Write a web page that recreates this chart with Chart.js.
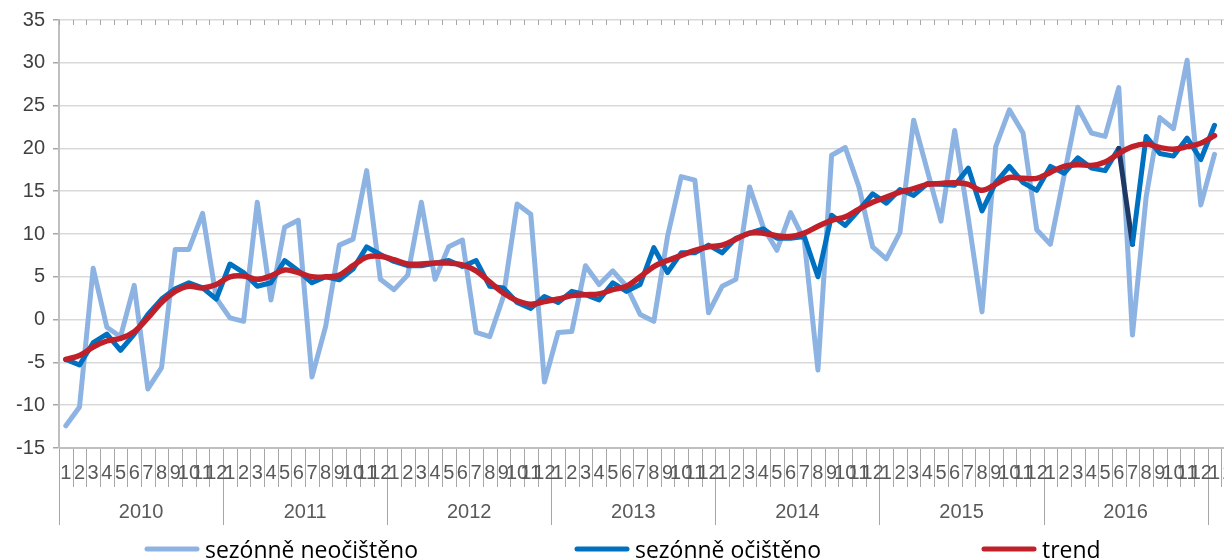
<!DOCTYPE html>
<html>
<head>
<meta charset="utf-8">
<script src="https://cdn.jsdelivr.net/npm/chart.js@4"></script>
<style>
  html, body { margin: 0; padding: 0; background: #fff; overflow: hidden; width: 1224px; height: 560px; }
  #wrap { position: absolute; left: 0; top: 0; width: 1240px; height: 560px; }
</style>
</head>
<body>
<div id="wrap"><canvas id="c" width="1240" height="560"></canvas></div>
<script>
// ---- data ----
const years = ['2010', '2011', '2012', '2013', '2014', '2015', '2016'];
const months = ['1', '2', '3', '4', '5', '6', '7', '8', '9', '10', '11', '12'];
const extraMonths = ['1', '2']; // 2017 (partly visible)

const seriesNames = ['sezónně neočištěno', 'sezónně očištěno', 'trend'];

const neocisteno = [
  -12.4, -10.2, 6.0, -0.9, -2.0, 4.0, -8.1, -5.6, 8.2, 8.2, 12.4, 2.5,
  0.2, -0.2, 13.7, 2.3, 10.8, 11.6, -6.7, -0.8, 8.7, 9.4, 17.4, 4.7,
  3.5, 5.2, 13.7, 4.7, 8.5, 9.3, -1.5, -2.0, 2.7, 13.5, 12.3, -7.3,
  -1.5, -1.4, 6.3, 4.1, 5.7, 3.9, 0.6, -0.2, 9.7, 16.7, 16.3, 0.8,
  3.9, 4.7, 15.5, 10.8, 8.1, 12.5, 9.3, -5.9, 19.2, 20.1, 15.5, 8.5,
  7.1, 10.2, 23.3, 17.4, 11.5, 22.1, 11.8, 0.9, 20.2, 24.5, 21.8, 10.5,
  8.8, 16.8, 24.8, 21.8, 21.4, 27.1, -1.8, 14.3, 23.6, 22.3, 30.3, 13.4,
  19.3
];
const ocisteno = [
  -4.65, -5.3, -2.7, -1.7, -3.6, -1.7, 0.6, 2.4, 3.6, 4.3, 3.7, 2.4,
  6.5, 5.5, 3.9, 4.3, 6.9, 5.7, 4.3, 5.0, 4.65, 5.9, 8.5, 7.6,
  6.8, 6.3, 6.3, 6.6, 6.9, 6.2, 6.9, 3.9, 3.7, 2.0, 1.3, 2.7,
  2.0, 3.3, 2.9, 2.3, 4.3, 3.3, 4.1, 8.4, 5.5, 7.8, 7.8, 8.7,
  7.8, 9.5, 10.1, 10.6, 9.5, 9.5, 9.7, 5.0, 12.2, 11.0, 12.8, 14.7,
  13.6, 15.2, 14.5, 15.9, 15.8, 15.7, 17.7, 12.7, 16.0, 17.9, 16.0, 15.1,
  17.9, 17.1, 18.9, 17.7, 17.4, 20.0, 8.8, 21.4, 19.4, 19.1, 21.2, 18.7,
  22.7
];
const trend = [
  -4.65, -4.2, -3.2, -2.5, -2.2, -1.4, 0.2, 2.0, 3.3, 3.9, 3.7, 4.1,
  5.0, 5.1, 4.7, 5.1, 5.8, 5.5, 5.0, 5.0, 5.2, 6.3, 7.3, 7.4,
  7.0, 6.5, 6.5, 6.6, 6.6, 6.4, 5.7, 4.4, 3.1, 2.2, 1.8, 2.1,
  2.4, 2.8, 2.9, 3.0, 3.5, 3.9, 5.0, 6.2, 6.9, 7.5, 8.1, 8.5,
  8.7, 9.4, 10.1, 10.1, 9.8, 9.7, 10.1, 10.9, 11.6, 12.0, 12.9, 13.7,
  14.3, 14.9, 15.3, 15.8, 15.9, 16.0, 15.8, 15.1, 15.8, 16.6, 16.5, 16.5,
  17.2, 17.9, 18.1, 18.0, 18.4, 19.4, 20.2, 20.5, 20.1, 19.9, 20.2, 20.6,
  21.5
];

const yMin = -15, yMax = 35, yStep = 5;

// ---- derived labels ----
const monthTicks = years.flatMap(() => months).concat(extraMonths);
const categories = years.flatMap(y => months.map(m => y + '-' + m)).concat(extraMonths.map(m => '2017-' + m));

const colors = { neo: '#8db3e2', oc: '#0070c0', ocDark: '#1f3864', trend: '#c0202a' };

const axisPlugin = {
  id: 'axisPlugin',
  afterDraw(chart) {
    const { ctx, chartArea: { left, right, top, bottom }, scales: { x } } = chart;
    const n = categories.length;
    const step = x.getPixelForValue(1) - x.getPixelForValue(0);
    const bnd = i => (i < n ? x.getPixelForValue(i) - step / 2 : x.getPixelForValue(n - 1) + step / 2);
    ctx.save();
    // separators and top ticks
    ctx.lineWidth = 1;
    ctx.strokeStyle = '#a6a6a6';
    for (let i = 0; i <= n; i++) {
      const px = Math.round(bnd(i)) + 0.5;
      ctx.beginPath();
      ctx.moveTo(px, bottom);
      ctx.lineTo(px, bottom + (i % 12 === 0 ? 77 : 39));
      ctx.moveTo(px, top);
      ctx.lineTo(px, top + 5);
      ctx.stroke();
    }
    // x axis line
    ctx.strokeStyle = '#bfbfbf';
    ctx.lineWidth = 2;
    ctx.beginPath();
    ctx.moveTo(left, bottom);
    ctx.lineTo(right, bottom);
    ctx.stroke();
    // month labels
    ctx.font = '20px "Liberation Sans", Arial, sans-serif';
    ctx.fillStyle = '#595959';
    ctx.textAlign = 'center';
    ctx.textBaseline = 'middle';
    monthTicks.forEach((m, i) => ctx.fillText(m, x.getPixelForValue(i), bottom + 25));
    // year labels
    years.forEach((y, k) => {
      const cx = (bnd(k * 12) + bnd(k * 12 + 12)) / 2;
      ctx.fillText(y, cx, bottom + 64);
    });
    // legend
    const legendItems = [
      { text: seriesNames[0], color: colors.neo, x0: 145 },
      { text: seriesNames[1], color: colors.oc, x0: 575 },
      { text: seriesNames[2], color: colors.trend, x0: 982 }
    ];
    let fs = 22;
    ctx.font = fs + 'px "Open Sans", sans-serif';
    const w = ctx.measureText(seriesNames[0]).width;
    fs = fs * 213 / w;
    ctx.font = fs.toFixed(2) + 'px "Open Sans", sans-serif';
    ctx.textAlign = 'left';
    ctx.textBaseline = 'alphabetic';
    ctx.fillStyle = '#000';
    legendItems.forEach(it => {
      ctx.strokeStyle = it.color;
      ctx.lineWidth = 5;
      ctx.lineCap = 'round';
      ctx.beginPath();
      ctx.moveTo(it.x0 + 2, 549);
      ctx.lineTo(it.x0 + 52, 549);
      ctx.stroke();
      ctx.fillText(it.text, it.x0 + 60, 558);
    });
    ctx.restore();
  }
};

new Chart(document.getElementById('c'), {
  type: 'line',
  data: {
    labels: categories,
    datasets: [
      {
        label: seriesNames[0], data: neocisteno, borderColor: colors.neo, borderWidth: 5,
        pointRadius: 0, tension: 0, order: 3, borderJoinStyle: 'round', borderCapStyle: 'round'
      },
      {
        label: seriesNames[1], data: ocisteno, borderColor: colors.oc, borderWidth: 5,
        pointRadius: 0, tension: 0, order: 2, borderJoinStyle: 'round', borderCapStyle: 'round',
        segment: { borderColor: c => (c.p0DataIndex === 77 ? colors.ocDark : undefined) }
      },
      {
        label: seriesNames[2], data: trend, borderColor: colors.trend, borderWidth: 5.5,
        pointRadius: 0, tension: 0.35, order: 1, borderJoinStyle: 'round', borderCapStyle: 'round'
      }
    ]
  },
  options: {
    responsive: false,
    animation: false,
    devicePixelRatio: 1,
    layout: { padding: { top: 19, right: 5, left: 0, bottom: 0 } },
    plugins: { legend: { display: false }, tooltip: { enabled: false }, title: { display: false } },
    scales: {
      x: {
        type: 'category',
        offset: true,
        grid: { display: false },
        border: { display: false },
        ticks: { display: false },
        afterFit: s => { s.height = 112; }
      },
      y: {
        min: yMin, max: yMax,
        ticks: {
          stepSize: yStep, padding: 8, color: '#404040',
          font: { family: '"Liberation Sans", Arial, sans-serif', size: 20 }
        },
        grid: { color: '#d9d9d9', lineWidth: 1.5, tickLength: 6, tickColor: '#a6a6a6' },
        border: { color: '#bfbfbf', width: 2 },
        afterFit: s => { s.width = 59; }
      }
    }
  },
  plugins: [axisPlugin]
});
</script>
</body>
</html>
